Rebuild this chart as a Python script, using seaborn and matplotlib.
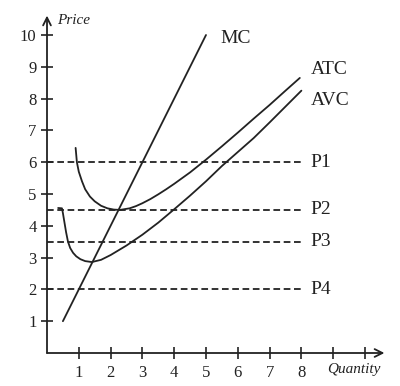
import matplotlib
matplotlib.use("Agg")
import matplotlib.pyplot as plt
import seaborn as sns
import pandas as pd

# ---- data ----
mc_q = [0.5, 5.0]
mc_p = [1.0, 10.0]

atc_q = [0.90, 0.94, 1.00, 1.10, 1.20, 1.35, 1.50, 1.70, 1.90, 2.10, 2.30, 2.60,
         2.80, 3.00, 3.25, 3.50, 3.75, 4.00, 4.50, 5.00, 5.50, 6.00, 6.50, 7.00,
         7.50, 7.95]
atc_p = [6.45, 6.00, 5.70, 5.40, 5.15, 4.92, 4.77, 4.63, 4.55, 4.51, 4.50, 4.55,
         4.62, 4.71, 4.84, 4.99, 5.15, 5.32, 5.68, 6.08, 6.50, 6.93, 7.37, 7.80,
         8.25, 8.65]

avc_q = [0.35, 0.47, 0.50, 0.55, 0.60, 0.66, 0.73, 0.82, 0.92, 1.05, 1.20, 1.41,
         1.70, 2.00, 2.50, 3.00, 3.50, 4.00, 4.50, 5.00, 5.50, 6.00, 6.50, 7.00,
         7.50, 8.00]
avc_p = [4.56, 4.55, 4.40, 4.10, 3.80, 3.50, 3.30, 3.15, 3.04, 2.95, 2.89, 2.86,
         2.93, 3.08, 3.38, 3.72, 4.10, 4.52, 4.95, 5.40, 5.88, 6.32, 6.76, 7.25,
         7.75, 8.25]

price_levels = [6.0, 4.5, 3.5, 2.0]
price_labels = ["P1", "P2", "P3", "P4"]
price_q_end = 8.0

x_ticks = [1, 2, 3, 4, 5, 6, 7, 8, 9, 10]
x_tick_labels = ["1", "2", "3", "4", "5", "6", "7", "8", "", ""]
y_ticks = [1, 2, 3, 4, 5, 6, 7, 8, 9, 10]
y_tick_labels = ["1", "2", "3", "4", "5", "6", "7", "8", "9", "10"]

curve_labels = {"MC": (5.45, 9.9), "ATC": (8.3, 8.9), "AVC": (8.3, 7.95)}

# ---- plotting ----
sns.set_theme(style="white")
plt.rcParams["font.family"] = ["Liberation Serif", "DejaVu Serif"]

fig = plt.figure(figsize=(4.0, 3.86), dpi=100)
ax = fig.add_axes([47 / 400, 1 - 353 / 386, (386 - 47) / 400, (353 - 14) / 386])
XMAX = (386 - 47) / 31.8
YMAX = (353 - 14) / 31.8
ax.set_xlim(0, XMAX)
ax.set_ylim(0, YMAX)

curves = pd.concat([
    pd.DataFrame({"q": mc_q, "p": mc_p, "curve": "MC"}),
    pd.DataFrame({"q": atc_q, "p": atc_p, "curve": "ATC"}),
    pd.DataFrame({"q": avc_q, "p": avc_p, "curve": "AVC"}),
])
sns.lineplot(data=curves, x="q", y="p", units="curve", estimator=None, sort=False,
             color="#222222", linewidth=1.3, ax=ax, legend=False)

levels = pd.DataFrame({
    "q": [v for _ in price_levels for v in (0.0, price_q_end)],
    "p": [p for p in price_levels for _ in (0, 1)],
    "lvl": [l for l in price_labels for _ in (0, 1)],
})
sns.lineplot(data=levels, x="q", y="p", units="lvl", estimator=None, sort=False,
             color="#222222", linewidth=1.3, linestyle=(0, (3.7, 2.0)), ax=ax, legend=False)

for lab, p in zip(price_labels, price_levels):
    ax.text(8.27, p, lab, fontsize=14, va="center", ha="left", color="#222222")
for lab, (qx, py) in curve_labels.items():
    ax.text(qx, py, lab, fontsize=14, va="center", ha="left", color="#222222")

# axes with arrows
for s in ax.spines.values():
    s.set_visible(False)
ax.annotate("", xy=(XMAX - 0.05, 0), xytext=(0, 0), annotation_clip=False,
            arrowprops=dict(arrowstyle="->", color="#222222", lw=1.3,
                            shrinkA=0, shrinkB=0, mutation_scale=14))
ax.annotate("", xy=(0, YMAX - 0.05), xytext=(0, 0), annotation_clip=False,
            arrowprops=dict(arrowstyle="->", color="#222222", lw=1.3,
                            shrinkA=0, shrinkB=0, mutation_scale=14))

ax.set_xticks(x_ticks)
ax.set_xticklabels(x_tick_labels)
ax.set_yticks(y_ticks)
ax.set_yticklabels(y_tick_labels)
ax.tick_params(axis="both", direction="inout", length=9, width=1.2, color="#222222",
               labelsize=12, labelcolor="#222222", bottom=True, left=True)
ax.tick_params(axis="x", pad=4)
ax.tick_params(axis="y", pad=3)
ax.set_xlabel("")
ax.set_ylabel("")
ax.grid(False)

ax.text(0.32, YMAX - 0.2, "Price", fontsize=11, style="italic", ha="left", va="center",
        color="#222222")
ax.text(8.8, -0.53, "Quantity", fontsize=11, style="italic", ha="left", va="center",
        color="#222222", clip_on=False)

fig.savefig("out.png", dpi=100)
